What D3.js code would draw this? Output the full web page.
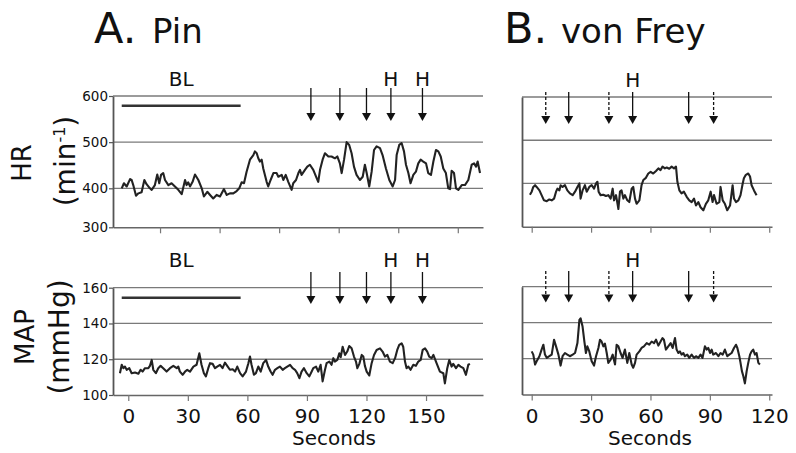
<!DOCTYPE html>
<html>
<head>
<meta charset="utf-8">
<script src="https://d3js.org/d3.v7.min.js"></script>
<style>
  body { margin: 0; background: #fff; }
  text { font-family: "DejaVu Sans", Verdana, sans-serif; fill: #111; }
</style>
</head>
<body>
<script>
// ---- data (seconds, values) ----
var hrA_t = [-3.3,-2.2,-0.8,0.9,1.7,2.5,3.9,5.1,6.7,8.1,9.2,10.9,11.8,13.4,14.6,15.6,16.5,17.6,18.5,20.2,21.8,23.5,25.2,26.9,28.6,29.4,30.2,31.1,32.4,33.6,35.3,37.0,38.1,39.8,41.2,42.8,44.5,46.2,48.2,49.6,51.2,52.9,54.6,55.9,57.1,58.3,59.6,61.3,63.0,63.8,64.7,65.5,66.3,67.2,68.0,69.7,70.5,71.7,73.1,74.7,75.6,77.3,78.1,79.3,80.6,82.3,83.1,84.5,85.7,86.5,87.3,89.0,90.2,91.5,93.2,94.9,95.7,96.6,97.9,99.1,100.8,102.4,104.1,105.3,106.6,107.5,108.7,110.0,111.3,112.5,113.7,115.0,116.7,118.1,119.2,120.1,121.4,122.6,123.8,125.1,126.8,128.1,129.8,131.5,133.2,134.4,135.2,136.5,137.7,138.9,139.9,141.1,142.2,143.6,144.9,146.1,147.3,148.6,150.0,151.1,152.5,153.7,155.0,156.2,157.4,158.7,160.0,161.2,162.1,162.9,164.1,165.1,166.3,168.0,169.6,171.3,173.0,174.2,175.2,176.0,177.2];
var hrA_v = [400,411,404,420,418,407,381,387,390,418,409,400,396,407,430,411,429,433,418,407,411,404,396,385,418,407,413,404,414,430,418,400,379,391,383,374,383,379,398,383,387,387,393,400,413,411,436,462,472,480,476,465,458,462,443,414,404,418,433,433,425,429,418,429,414,396,411,418,433,440,429,440,447,451,440,422,414,440,462,476,469,469,465,469,454,433,462,500,494,476,447,429,418,425,451,433,404,436,483,491,487,472,443,418,404,418,472,494,498,480,451,433,411,429,436,454,462,458,454,433,429,458,483,480,469,443,433,400,398,438,433,400,396,407,407,418,451,454,447,458,433];

var mapA_t = [-4.2,-3.3,-2.5,-1.7,-0.8,0.5,1.7,3.4,5.1,6.2,7.2,8.4,10.1,10.9,11.8,12.6,13.9,15.1,16.3,17.6,19.3,21.0,22.7,24.4,25.2,26.0,27.4,28.6,29.7,31.1,32.8,34.4,35.8,36.9,38.1,39.1,40.3,41.2,42.5,43.7,44.8,46.2,47.5,48.7,50.1,51.2,52.6,53.8,54.9,56.3,57.6,59.3,60.5,61.3,62.1,63.3,64.3,65.5,66.7,68.0,69.4,70.5,71.7,72.7,73.9,75.1,76.4,77.8,78.9,80.1,81.5,82.8,84.0,85.1,86.2,87.3,88.5,89.9,91.2,92.4,93.2,94.6,95.7,96.9,97.9,99.1,99.9,101.3,102.4,103.3,104.1,105.3,106.3,107.0,108.0,109.2,110.3,111.3,112.5,113.7,114.7,115.4,116.4,117.6,118.4,119.2,120.1,121.4,122.6,123.8,125.1,126.8,128.1,129.3,130.5,131.8,133.2,134.4,135.5,136.5,137.7,138.5,139.4,140.2,141.1,142.2,143.6,144.9,146.1,147.3,148.3,149.5,150.6,151.6,152.8,153.7,155.3,157.0,158.7,159.5,160.7,161.7,162.9,163.7,165.1,166.3,167.4,168.8,170.1,171.3,172.1];
var mapA_v = [112.2,116.9,115.0,115.9,114.1,115.0,112.2,112.6,111.9,114.1,113.1,115.0,115.0,116.3,119.6,114.1,112.2,115.0,116.3,115.0,113.1,115.0,116.3,115.0,115.9,113.1,111.3,113.1,114.1,113.1,115.9,116.9,123.3,116.9,112.2,110.4,115.0,117.8,117.4,115.0,115.9,116.9,115.0,118.1,115.9,114.1,114.4,113.1,115.9,112.2,110.4,113.1,117.8,121.5,116.9,111.3,112.2,115.9,113.1,117.8,119.6,115.9,113.1,111.3,114.1,115.0,115.9,114.1,115.0,115.9,116.9,115.0,114.1,112.2,109.4,113.1,115.0,112.2,110.4,113.1,115.0,115.9,113.1,116.9,107.6,114.1,117.8,118.7,116.9,120.6,118.7,119.6,123.3,121.1,127.0,122.4,124.3,127.4,126.1,121.5,118.7,115.0,117.4,122.4,121.5,116.3,113.1,110.9,117.8,122.4,125.2,126.1,124.3,121.5,122.4,118.7,117.8,120.6,125.2,128.0,128.9,127.0,118.7,115.0,115.9,114.1,116.9,116.3,118.7,119.6,125.2,126.1,124.3,121.5,120.6,122.4,117.8,113.1,112.2,106.5,115.0,119.6,115.9,117.4,115.0,116.9,115.9,115.0,111.3,116.9,117.4];

var hrB_t = [-0.9,0,0.8,1.7,2.5,3.9,5.0,6.2,7.6,8.9,10.1,11.3,12.3,13.0,14.0,14.6,15.6,16.8,18.0,19.3,20.7,21.9,23.1,24.1,24.7,25.7,26.9,27.8,29.1,30.3,31.5,32.5,33.2,33.8,34.8,36.2,37.5,38.7,39.9,40.9,41.6,42.6,43.8,44.6,45.4,46.3,47.1,48.3,49.3,50.5,51.3,52.2,53.0,54.4,55.5,56.4,57.7,58.9,60.1,61.4,62.8,64.0,65.1,66.1,67.3,68.2,69.5,70.7,71.9,72.9,73.6,74.6,75.7,76.9,78.3,79.6,80.8,82.0,83.0,84.2,85.3,86.7,88.0,89.2,90.4,91.4,92.1,93.4,94.8,95.4,96.5,97.6,98.8,100.2,101.5,102.2,103.2,104.4,105.5,106.6,107.2,108.2,109.4,110.3,111.1,112.3,113.6];
var hrB_v = [374,381,392,396,392,384,373,361,359,363,361,365,381,388,384,396,392,396,384,377,373,381,392,400,365,384,396,381,392,396,388,400,404,381,373,374,371,373,365,388,361,373,341,381,384,365,373,361,357,388,392,365,353,361,396,408,413,423,427,423,429,435,431,439,435,437,434,439,435,439,404,384,377,381,369,361,357,365,349,357,345,338,353,361,381,357,373,353,357,392,361,353,338,349,396,365,357,361,373,400,412,420,423,416,396,384,373];

var mapB_t = [0,0.8,1.7,2.5,3.9,5.0,5.9,6.7,7.6,8.9,10.1,11.3,12.3,13.5,14.6,15.6,16.8,18.0,19.3,20.7,21.9,23.1,24.1,24.7,25.7,26.6,27.4,28.1,29.1,30.3,31.5,32.5,33.7,34.5,35.3,36.2,37.0,37.9,38.7,39.9,40.9,42.1,42.9,43.8,44.9,45.9,47.1,48.3,49.3,50.5,51.3,52.2,53.0,54.4,55.5,56.7,58.1,59.4,60.6,61.8,62.8,64.0,65.1,66.1,66.8,67.8,69.0,70.2,71.2,72.4,73.2,74.1,74.9,75.7,76.6,77.4,78.6,79.6,80.8,82.0,83.0,84.2,85.3,86.3,87.5,88.4,89.2,90.1,90.9,91.7,93.1,94.3,95.4,96.5,97.6,98.8,99.8,101.0,102.2,103.2,103.9,104.9,105.5,106.2,106.9,107.7,108.6,109.4,110.3,111.1,111.9,112.8,113.6,114.5,115.3];
var mapB_v = [124.0,122.2,116.7,118.5,121.3,125.0,127.7,122.2,120.4,121.3,122.2,130.5,126.8,122.2,116.1,121.3,123.1,122.2,121.3,122.2,123.1,128.6,141.5,142.4,137.8,129.5,123.1,126.8,124.0,118.5,116.1,121.3,125.9,130.5,129.5,126.8,128.3,123.1,117.6,119.4,122.2,116.7,127.7,126.8,123.1,120.4,125.0,117.6,123.1,116.7,114.9,117.6,122.2,124.0,125.9,126.8,128.6,127.7,129.5,128.6,130.5,127.2,129.5,131.4,130.5,125.0,126.8,128.6,125.9,131.4,125.0,123.1,124.0,122.2,123.1,121.3,122.2,120.4,122.2,120.4,121.3,120.4,122.2,120.4,126.8,125.0,125.9,123.1,125.0,122.2,123.1,121.3,123.1,122.2,125.0,121.3,122.2,123.1,125.9,127.7,125.9,121.3,117.6,113.0,110.3,106.2,113.0,117.6,122.2,124.0,125.0,122.2,123.1,117.6,116.7];

// stimulus times (s)
var arrowsA = [92, 106.6, 120, 132.3, 148.2];
var hLabelsA = [132.3, 148.2];
var blRange = [-3.3, 56.6];
var arrowsB = [7.1, 18.7, 39, 51, 79.3, 91.9];
var dashedB = [true, false, true, false, false, true];
var hLabelsB = [51];

var hrTicks = [300, 400, 500, 600];
var mapTicks = [100, 120, 140, 160];
var xTicksA = [0, 30, 60, 90, 120, 150];
var xTicksA_top = [16, 46, 76, 106, 136, 166];
var xTicksB = [0, 30, 60, 90, 120];

// ---- drawing ----
var svg = d3.select("body").append("svg")
    .attr("width", 796)
    .attr("height", 453);

var xA = d3.scaleLinear().domain([-7.7, 178.7]).range([113, 483]);
var xB = d3.scaleLinear().domain([-4.9, 121.4]).range([522, 772]);

var yHrA = d3.scaleLinear().domain([300, 400, 600]).range([227.3, 188.3, 96]);
var yMapA = d3.scaleLinear().domain([100, 160]).range([395, 287.7]);
var yHrB = d3.scaleLinear().domain([300, 600]).range([226.7, 97]);
var yMapB = d3.scaleLinear().domain([100, 160]).range([394.5, 286.7]);

function pairs(t, v) {
    return t.map(function (d, i) { return [d, v[i]]; });
}

function panel(o) {
    var g = svg.append("g");
    var x0 = o.x.range()[0], x1 = o.x.range()[1];
    var yb = o.y.range()[0];

    // grid lines
    g.selectAll("line.grid")
        .data(o.yTicks.slice(1))
        .enter().append("line")
        .attr("x1", x0).attr("x2", x1)
        .attr("y1", function (d) { return o.y(d); })
        .attr("y2", function (d) { return o.y(d); })
        .style("stroke", "#7a7a7a")
        .style("stroke-width", 1.3);

    // x axis
    var xa = g.append("g")
        .attr("transform", "translate(0," + yb + ")")
        .call(d3.axisBottom(o.x).tickValues(o.xTicks).tickSize(6).tickSizeOuter(0)
            .tickFormat(o.xLabels ? d3.format("d") : ""));
    xa.select(".domain").style("stroke", "#666").style("stroke-width", 1.6);
    xa.selectAll(".tick line").style("stroke", "#777").style("stroke-width", 1.2);
    xa.selectAll(".tick text")
        .attr("dy", 0).attr("y", 28)
        .style("font-size", "20px")
        .style("font-family", "DejaVu Sans, sans-serif")
        .style("fill", "#111");

    // y axis
    var ya = g.append("g")
        .attr("transform", "translate(" + x0 + ",0)")
        .call(d3.axisLeft(o.y).tickValues(o.yTicks).tickSize(o.yLabels ? 4 : 0).tickSizeOuter(0)
            .tickFormat(o.yLabels ? d3.format("d") : ""));
    ya.select(".domain").style("stroke", "#555").style("stroke-width", 1.8);
    ya.selectAll(".tick line").style("stroke", "#555").style("stroke-width", 1.2);
    ya.selectAll(".tick text")
        .attr("x", -5)
        .style("font-size", "13.5px")
        .style("font-family", "DejaVu Sans, sans-serif")
        .style("fill", "#111");

    // trace
    g.append("path")
        .datum(o.data)
        .attr("d", d3.line()
            .x(function (d) { return o.x(d[0]); })
            .y(function (d) { return o.y(d[1]); }))
        .style("fill", "none")
        .style("stroke", "#222")
        .style("stroke-width", 2.1)
        .style("stroke-linejoin", "round");

    // baseline bar
    if (o.bl) {
        g.append("line")
            .attr("x1", o.x(blRange[0])).attr("x2", o.x(blRange[1]))
            .attr("y1", o.barY).attr("y2", o.barY)
            .style("stroke", "#333").style("stroke-width", 2.6);
        g.append("text")
            .attr("x", o.x((blRange[0] + blRange[1]) / 2))
            .attr("y", o.labelY)
            .attr("text-anchor", "middle")
            .style("font-size", "20px")
            .text("BL");
    }

    // stimulus arrows
    var ar = g.selectAll("g.arrow")
        .data(o.arrows)
        .enter().append("g")
        .attr("class", "arrow")
        .attr("transform", function (d) { return "translate(" + o.x(d) + ",0)"; });
    ar.append("line")
        .attr("x1", 0).attr("x2", 0)
        .attr("y1", o.arrowTop).attr("y2", o.arrowTip - 5)
        .style("stroke", "#111")
        .style("stroke-width", 1.3)
        .style("stroke-dasharray", function (d, i) { return o.dashed && o.dashed[i] ? "3,2" : null; });
    ar.append("path")
        .attr("d", "M-4.5," + (o.arrowTip - 8) + "L4.5," + (o.arrowTip - 8) + "L0," + o.arrowTip + "Z")
        .style("fill", "#111");

    g.selectAll("text.h")
        .data(o.hLabels)
        .enter().append("text")
        .attr("class", "h")
        .attr("x", function (d) { return o.x(d); })
        .attr("y", o.labelY)
        .attr("text-anchor", "middle")
        .style("font-size", "20px")
        .text("H");
}

panel({ x: xA, y: yHrA, yTicks: hrTicks, yLabels: true, xTicks: xTicksA_top, xLabels: false,
    data: pairs(hrA_t, hrA_v), bl: true, barY: 105.7, labelY: 86,
    arrows: arrowsA, arrowTop: 88, arrowTip: 121, hLabels: hLabelsA });
panel({ x: xA, y: yMapA, yTicks: mapTicks, yLabels: true, xTicks: xTicksA, xLabels: true,
    data: pairs(mapA_t, mapA_v), bl: true, barY: 297.7, labelY: 267.3,
    arrows: arrowsA, arrowTop: 272, arrowTip: 304, hLabels: hLabelsA });
panel({ x: xB, y: yHrB, yTicks: hrTicks, yLabels: false, xTicks: xTicksB, xLabels: false,
    data: pairs(hrB_t, hrB_v), bl: false, labelY: 86.5,
    arrows: arrowsB, dashed: dashedB, arrowTop: 92, arrowTip: 124, hLabels: hLabelsB });
panel({ x: xB, y: yMapB, yTicks: mapTicks, yLabels: false, xTicks: xTicksB, xLabels: true,
    data: pairs(mapB_t, mapB_v), bl: false, labelY: 267.3,
    arrows: arrowsB, dashed: dashedB, arrowTop: 271, arrowTip: 302.5, hLabels: hLabelsB });

// titles
svg.append("text").attr("x", 94).attr("y", 43).style("font-size", "43px").text("A.");
svg.append("text").attr("x", 152).attr("y", 43).style("font-size", "34px").text("Pin");
svg.append("text").attr("x", 504).attr("y", 43).style("font-size", "43px").text("B.");
svg.append("text").attr("x", 561).attr("y", 43).style("font-size", "34px").text("von Frey");

// axis titles
svg.append("text").attr("transform", "translate(31,163) rotate(-90)")
    .attr("text-anchor", "middle").style("font-size", "26px").text("HR");
var mn = svg.append("text").attr("transform", "translate(75,161) rotate(-90)")
    .attr("text-anchor", "middle").style("font-size", "28px");
mn.append("tspan").text("(min");
mn.append("tspan").attr("dy", -10).style("font-size", "16px").text("-1");
mn.append("tspan").attr("dy", 10).text(")");
svg.append("text").attr("transform", "translate(34,337) rotate(-90)")
    .attr("text-anchor", "middle").style("font-size", "26px").text("MAP");
svg.append("text").attr("transform", "translate(69,337) rotate(-90)")
    .attr("text-anchor", "middle").style("font-size", "28px").text("(mmHg)");

svg.append("text").attr("x", 334).attr("y", 445).attr("text-anchor", "middle")
    .style("font-size", "20px").text("Seconds");
svg.append("text").attr("x", 650).attr("y", 445).attr("text-anchor", "middle")
    .style("font-size", "20px").text("Seconds");
</script>
</body>
</html>
